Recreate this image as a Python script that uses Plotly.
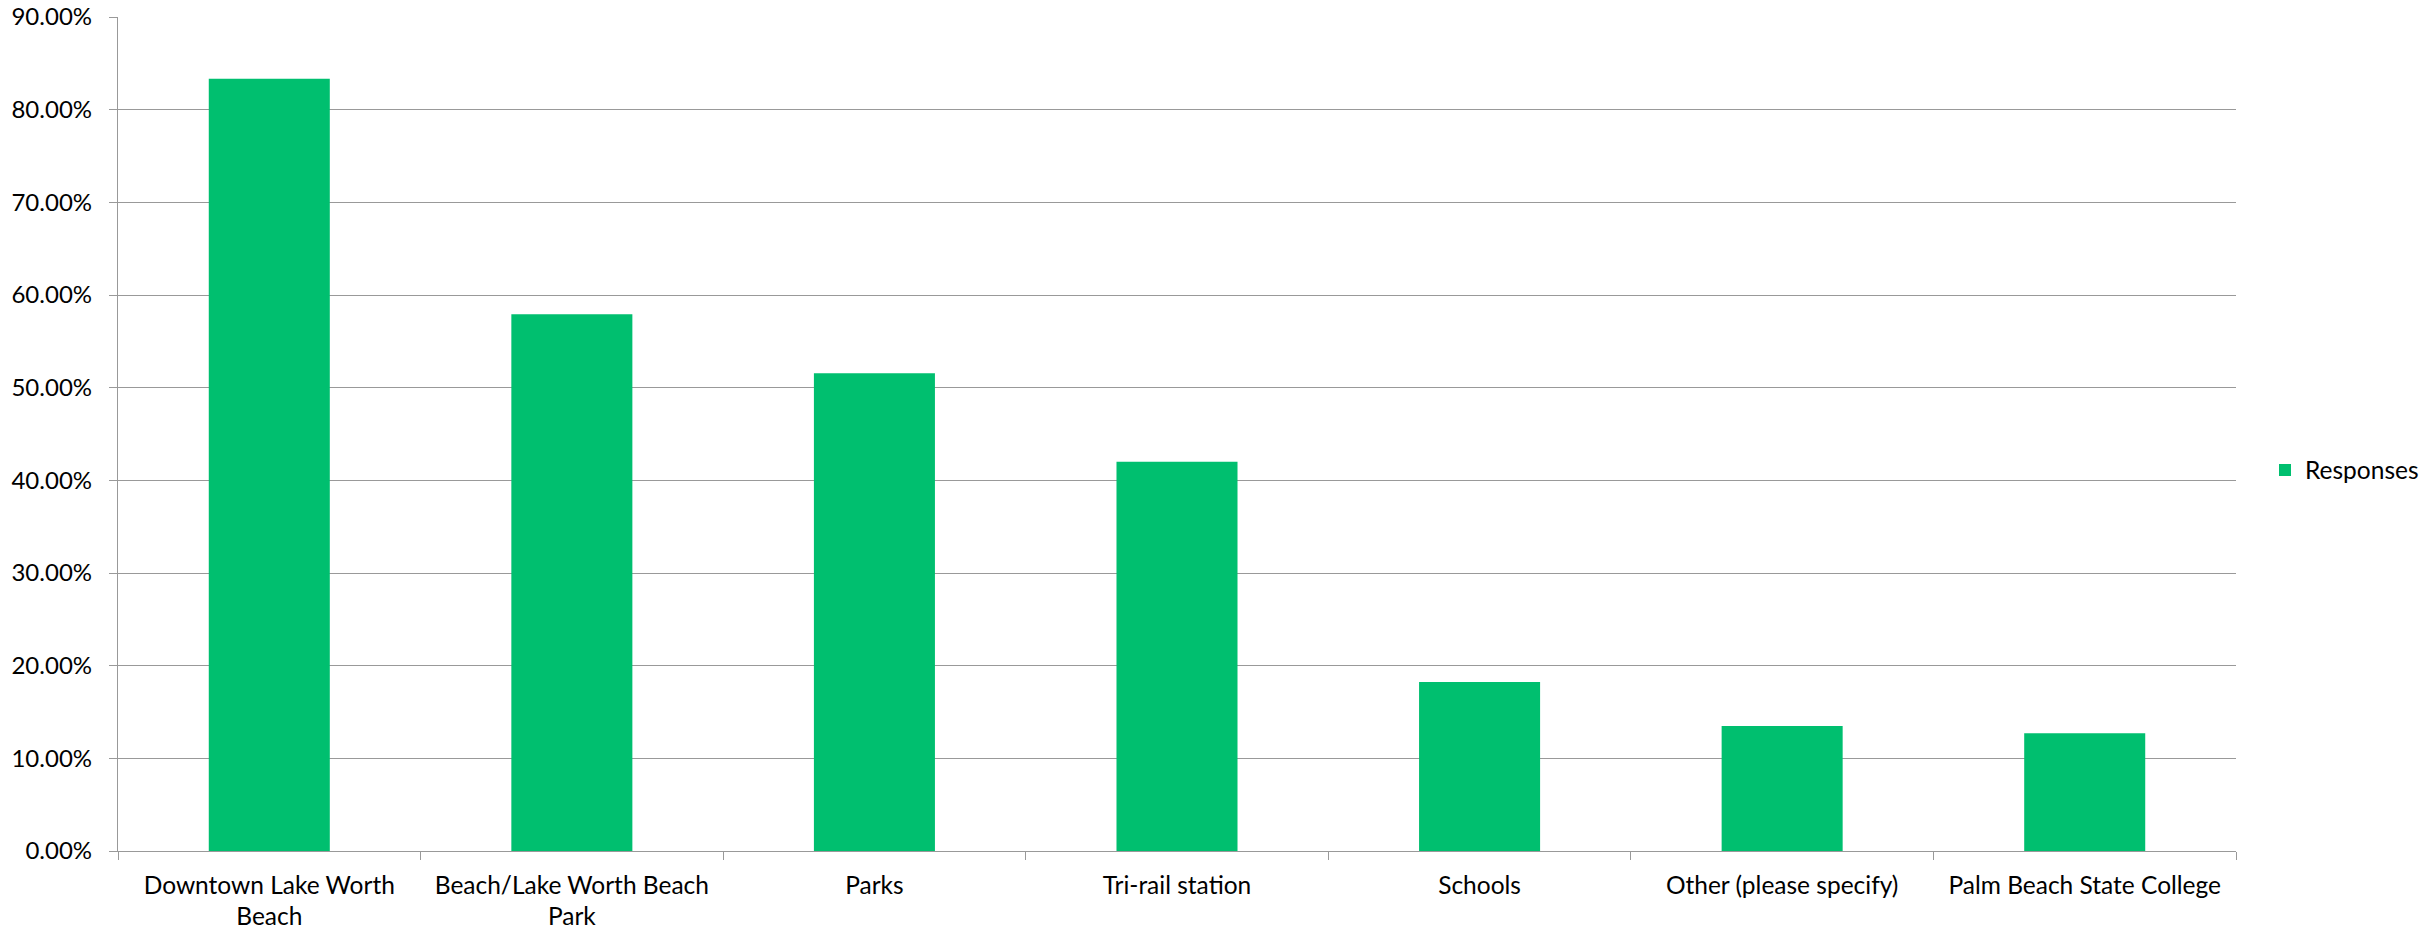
import plotly.graph_objects as go

# Survey answers and the share of respondents choosing each
categories = [
    "Downtown Lake Worth<br>Beach",
    "Beach/Lake Worth Beach<br>Park",
    "Parks",
    "Tri-rail station",
    "Schools",
    "Other (please specify)",
    "Palm Beach State College",
]
responses = [0.8333, 0.5792, 0.5156, 0.4200, 0.1825, 0.1349, 0.1270]
series_name = "Responses"

GREEN = "#00BF6F"
GRID = "#999999"
FONT = "Lato"
TEXT = "#000000"

fig = go.Figure(
    go.Bar(
        x=categories,
        y=responses,
        name=series_name,
        marker=dict(color=GREEN, line=dict(width=0)),
        showlegend=True,
    )
)

fig.update_layout(
    width=2432,
    height=929,
    margin=dict(l=118, r=196, t=17, b=78, autoexpand=False),
    paper_bgcolor="white",
    plot_bgcolor="white",
    bargap=0.6,
    font=dict(family=FONT, size=24, color=TEXT),
    legend=dict(
        xref="container",
        yref="container",
        x=2265 / 2432,
        xanchor="left",
        y=1 - 470 / 929,
        yanchor="middle",
        font=dict(family=FONT, size=24.5, color=TEXT),
        bgcolor="rgba(0,0,0,0)",
        itemwidth=30,
    ),
)

fig.update_xaxes(
    automargin=False,
    showline=True,
    linecolor=GRID,
    linewidth=1.3,
    ticks="outside",
    tickson="boundaries",
    ticklen=8,
    tickcolor=GRID,
    showgrid=False,
    tickfont=dict(family=FONT, size=24.5, color=TEXT),
    ticklabelstandoff=12,
)

fig.update_yaxes(
    automargin=False,
    range=[0, 0.9],
    dtick=0.1,
    tickformat=".2%",
    showline=True,
    linecolor=GRID,
    linewidth=1.3,
    showgrid=True,
    gridcolor=GRID,
    gridwidth=1.3,
    zeroline=False,
    ticks="outside",
    ticklen=8,
    tickcolor=GRID,
    tickfont=dict(family=FONT, size=24, color=TEXT),
    ticklabelstandoff=12,
)

fig.write_html("out.html")
